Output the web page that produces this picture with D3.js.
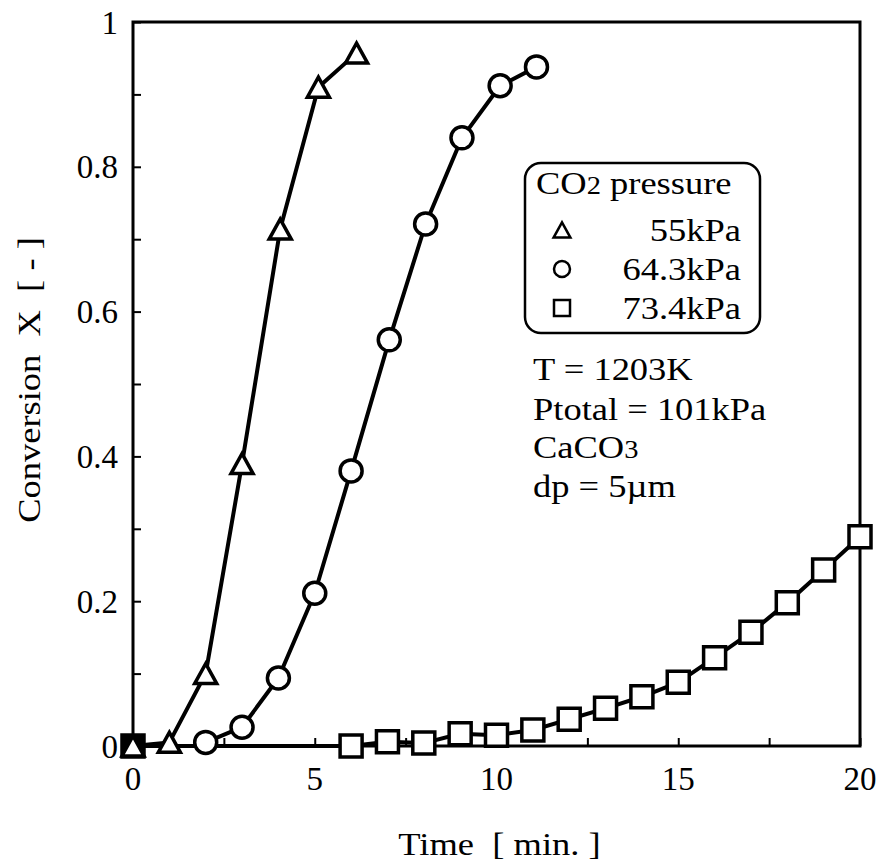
<!DOCTYPE html>
<html>
<head>
<meta charset="utf-8">
<script src="https://cdn.jsdelivr.net/npm/d3@7"></script>
<style>
  body { margin: 0; background: #fff; }
</style>
</head>
<body>
<div id="chart"></div>
<script>
// CO2 pressure series: time [min] and conversion X [-]
const timeTri = [0, 1, 2, 3, 4.05, 5.1, 6.15];
const convTri = [0, 0.005, 0.10, 0.39, 0.714, 0.91, 0.957];
const timeCir = [2, 3, 4, 5, 6, 7.05, 8.05, 9.05, 10.1, 11.1];
const convCir = [0.005, 0.026, 0.094, 0.211, 0.38, 0.561, 0.721, 0.84, 0.912, 0.938];
const timeSq = [0, 6, 7, 8, 9, 10, 11, 12, 13, 14, 15, 16, 17, 18, 19, 20];
const convSq = [0, 0, 0.006, 0.004, 0.017, 0.015, 0.022, 0.037, 0.052, 0.068, 0.088, 0.122, 0.157, 0.198, 0.243, 0.289];

const xTicks = [0, 5, 10, 15, 20];
const yTicks = [0, 0.2, 0.4, 0.6, 0.8, 1];
const legendLabels = ['55kPa', '64.3kPa', '73.4kPa'];
const notes = ['T = 1203K', 'Ptotal = 101kPa', 'CaCO3', 'dp = 5\u00b5m'];

const W = 880, H = 863;
const margin = { top: 22, right: 20, bottom: 117, left: 133 },
      width = W - margin.left - margin.right,
      height = H - margin.top - margin.bottom;

const svg = d3.select('#chart').append('svg')
    .attr('width', W)
    .attr('height', H)
    .attr('font-family', '"Liberation Serif", "Times New Roman", Times, "DejaVu Serif", serif');

const g = svg.append('g')
    .attr('transform', 'translate(' + margin.left + ',' + margin.top + ')');

const x = d3.scaleLinear().domain([0, 20]).range([0, width]);
const y = d3.scaleLinear().domain([0, 1]).range([height, 0]);

// the original lettering is a bit wider than Liberation Serif
const stretch = 1.14;
function wideText(parent, px, py, size, anchor, rot) {
  return parent.append('text')
      .attr('transform', 'translate(' + px + ',' + py + ')' + (rot ? ' rotate(' + rot + ')' : '') + ' scale(' + stretch + ',1)')
      .attr('font-size', size)
      .attr('text-anchor', anchor || 'start')
      .attr('xml:space', 'preserve');
}

// marker shapes
function triPath(s) {
  const w = s * 1.05, h = s * 0.95;
  return 'M0,' + (-h / 2) + 'L' + (w / 2) + ',' + (h / 2) + 'L' + (-w / 2) + ',' + (h / 2) + 'Z';
}
function sqPath(s) {
  return 'M' + (-s / 2) + ',' + (-s / 2) + 'h' + s + 'v' + s + 'h' + (-s) + 'Z';
}
function cirPath(s) {
  return d3.symbol().type(d3.symbolCircle).size(Math.PI * (s / 2) * (s / 2))();
}

// minor/major ticks, inside
const tickLen = 8;
g.append('g')
    .attr('transform', 'translate(0,' + height + ')')
    .call(d3.axisBottom(x).tickValues(d3.range(0, 20.01, 2.5)).tickSize(-tickLen).tickFormat(''))
    .call(a => a.select('.domain').remove())
    .selectAll('line').attr('stroke-width', 2);

g.append('g')
    .call(d3.axisLeft(y).tickValues(d3.range(0, 1.001, 0.1)).tickSize(-tickLen).tickFormat(''))
    .call(a => a.select('.domain').remove())
    .selectAll('line').attr('stroke-width', 2);

// tick labels
g.selectAll('.xlab')
  .data(xTicks)
  .enter().append('text')
    .attr('x', d => x(d))
    .attr('y', height + 44)
    .attr('text-anchor', 'middle')
    .attr('font-size', 33)
    .text(d => d);

g.selectAll('.ylab')
  .data(yTicks)
  .enter().append('text')
    .attr('x', -15)
    .attr('y', d => y(d))
    .attr('dy', '0.35em')
    .attr('text-anchor', 'end')
    .attr('font-size', 33)
    .text(d => d);

// frame
g.append('rect')
    .attr('width', width)
    .attr('height', height)
    .attr('fill', 'none')
    .attr('stroke', '#000')
    .attr('stroke-width', 3);

// axis titles
wideText(svg, margin.left + x(10) + 3, 855, 32, 'middle').text('Time  [ min. ]');
wideText(svg, 40, 380, 32, 'middle', -90).text('Conversion  X  [ - ]');

// series
const series = [
  { t: timeSq, v: convSq, shape: sqPath, size: 22, lw: 4 },
  { t: timeCir, v: convCir, shape: cirPath, size: 22, lw: 4 },
  { t: timeTri, v: convTri, shape: triPath, size: 21, lw: 4 }
];

const line = d3.line().x(d => x(d[0])).y(d => y(d[1]));

series.forEach((s, si) => {
  const pts = s.t.map((t, i) => [t, s.v[i]]);
  g.append('path')
      .datum(pts)
      .attr('d', line)
      .attr('fill', 'none')
      .attr('stroke', '#000')
      .attr('stroke-width', s.lw)
      .attr('stroke-linejoin', 'round');
  g.selectAll('.m' + si)
    .data(pts)
    .enter().append('path')
      .attr('transform', d => 'translate(' + x(d[0]) + ',' + y(d[1]) + ')')
      .attr('d', s.shape(s.size))
      .attr('fill', (d, i) => (si === 0 && i === 0) ? '#000' : '#fff')
      .attr('stroke', '#000')
      .attr('stroke-width', 3.5);
});

// legend
const lg = svg.append('g');
lg.append('rect')
    .attr('x', 525).attr('y', 163)
    .attr('width', 235).attr('height', 170)
    .attr('rx', 16).attr('ry', 16)
    .attr('fill', '#fff')
    .attr('stroke', '#000')
    .attr('stroke-width', 2.5);

const title = wideText(lg, 536, 194, 32);
title.append('tspan').text('CO');
title.append('tspan').attr('font-size', 25).text('2');
title.append('tspan').text(' pressure');

const legShapes = [triPath, cirPath, sqPath];
legendLabels.forEach((lab, i) => {
  const yy = 230 + i * 39;
  lg.append('path')
      .attr('transform', 'translate(562,' + yy + ')')
      .attr('d', legShapes[i](16))
      .attr('fill', '#fff')
      .attr('stroke', '#000')
      .attr('stroke-width', 2.5);
  wideText(lg, 741, yy + 11, 32, 'end').text(lab);
});

// condition notes
const noteY = [380, 420, 458, 497];
notes.forEach((n, i) => {
  const t = wideText(svg, 533, noteY[i], 32);
  if (n === 'CaCO3') {
    t.append('tspan').text('CaCO');
    t.append('tspan').attr('font-size', 25).text('3');
  } else {
    t.text(n);
  }
});
</script>
</body>
</html>
